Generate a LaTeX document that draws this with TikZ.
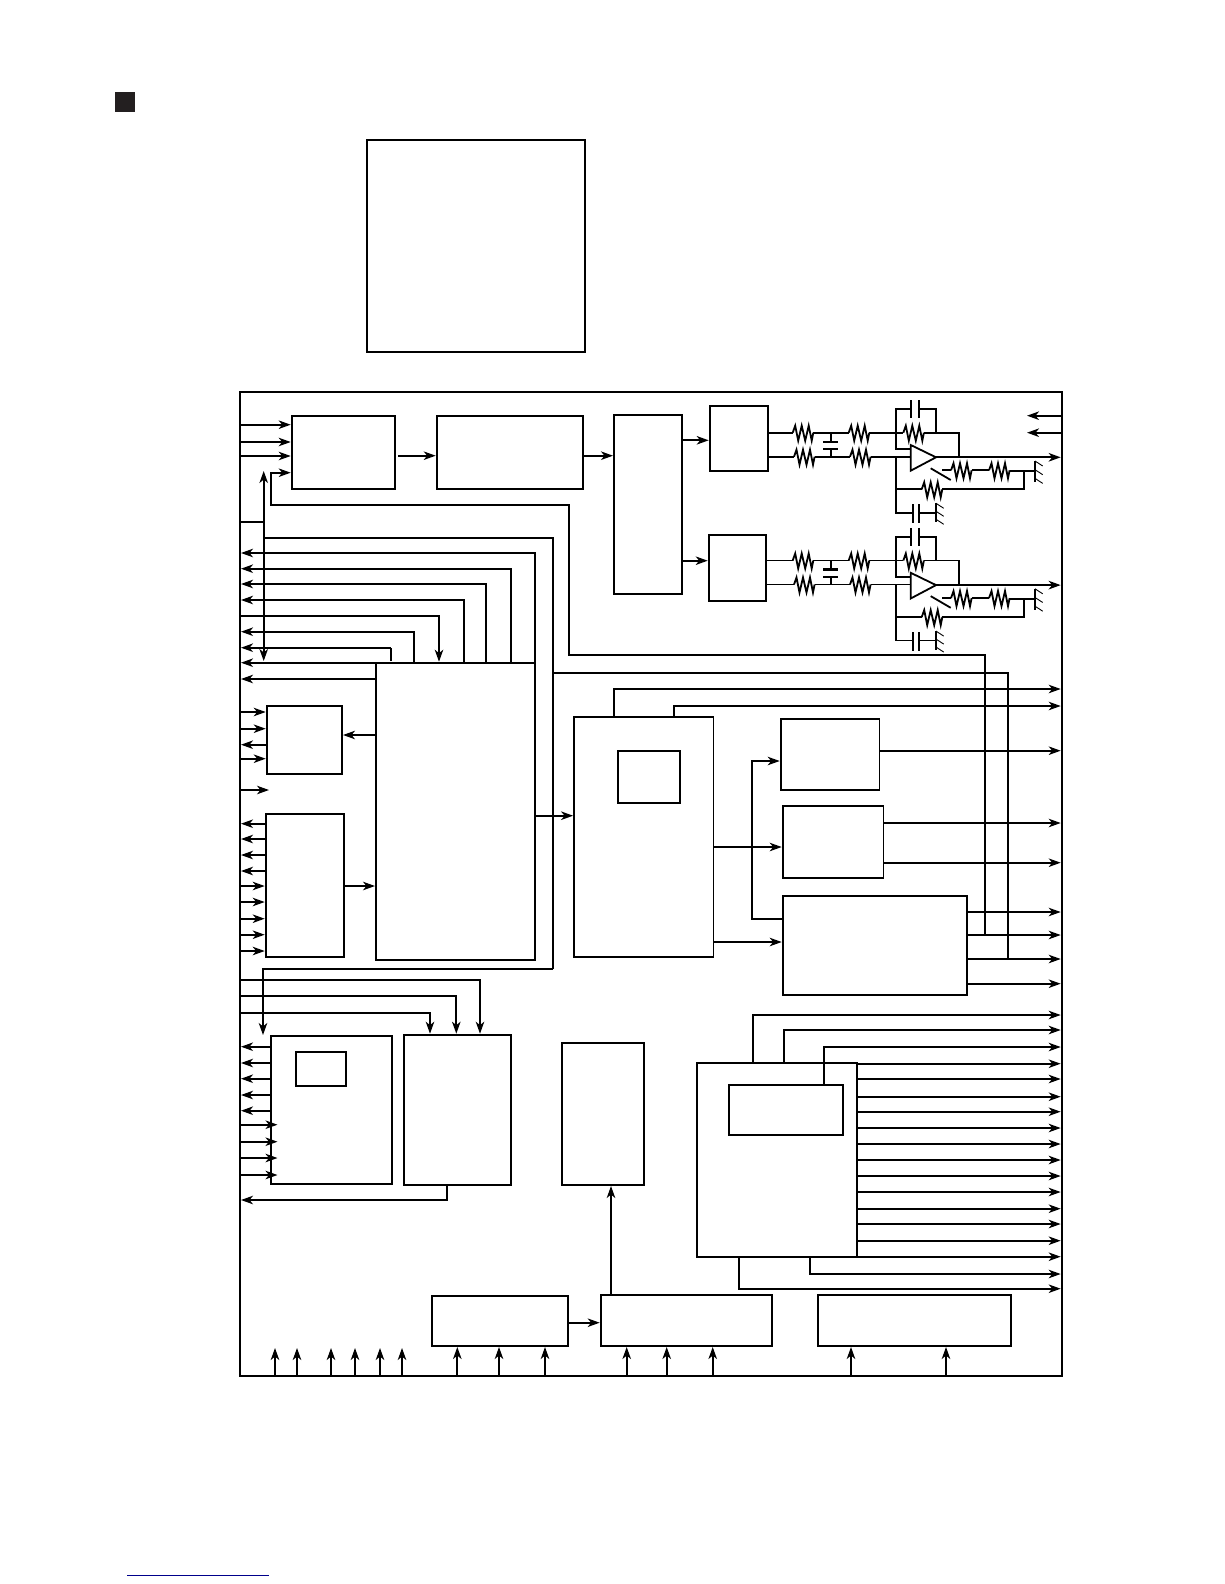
\documentclass[tikz,border=0pt]{standalone}
\usetikzlibrary{arrows.meta}
\definecolor{sqblack}{HTML}{231F20}
\definecolor{linkblue}{HTML}{00008B}
\tikzset{
  x=1pt,y=-1pt,
  ln/.style={line width=1.8pt,line join=miter,black},
  box/.style={draw,ln,inner sep=0pt,outer sep=0pt,rectangle},
  arr/.style={ln,-{Stealth[length=12pt,width=8.5pt,inset=3.5pt]},shorten >=1pt},
  dbl/.style={ln,{Stealth[length=12pt,width=8.5pt,inset=3.5pt]}-{Stealth[length=12pt,width=8.5pt,inset=3.5pt]}},
  wire/.style={line width=1.8pt,line join=miter,black},
  plate/.style={line width=2.2pt,black},
  hatch/.style={line width=0.9pt,black}
}
% box by corners: name, x1, y1, x2, y2
\newcommand\bx[5]{\node[box,minimum width={(#4-#2)*1pt},minimum height={(#5-#3)*1pt}] (#1) at ({(#2+#4)/2},{(#3+#5)/2}) {};}
% horizontal arrow between two anchors at height y
\newcommand\harr[3]{\draw[arr] (#1 |- 0,#3) -- (#2 |- 0,#3);}
% vertical arrow at x between two anchors
\newcommand\varr[3]{\draw[arr] (#1,0 |- #2) -- (#1,0 |- #3);}
\newcommand\resist[2]{\draw[wire] (#1,#2) -- ++(2.5,-7) -- ++(3,15) -- ++(3.5,-15) -- ++(3.5,15) -- ++(3.5,-15) -- ++(3,15) -- ++(1.6,-8);}
\newcommand\gnd[3]{\draw[wire] (#1,#2) -- (#1,#3);
  \foreach \t in {0,0.42,0.84} \draw[hatch] (#1,{#2+(#3-#2)*\t}) -- ++(7.7,5);}
\begin{document}
\begin{tikzpicture}
\useasboundingbox (0,0) rectangle (1224,1584);
\fill[white] (0,0) rectangle (1224,1584);
\fill[sqblack] (115,92) rectangle (135,112);
\draw[linkblue,line width=1pt] (127,1575) -- (269,1575);

\bx{blank}{367}{140}{585}{351.7}
\bx{frame}{240}{391.7}{1061.7}{1376}

\bx{A}{291.7}{416}{395.3}{489}
\bx{B}{436.7}{416}{583}{489}
\bx{C}{614}{415}{682}{594}
\bx{R}{709.7}{405.7}{768.3}{471}
\bx{S}{708.7}{534.7}{766.3}{601.3}
\bx{D}{376}{662.7}{535}{960}
\bx{E}{266.7}{705.7}{342}{774}
\bx{F}{265.7}{814}{344.3}{957}
\bx{G}{270.7}{1036}{392.3}{1184}
\bx{Gi}{296}{1051.7}{346.3}{1086}
\bx{H}{404}{1034.7}{511.3}{1185}
\bx{I}{561.7}{1043}{644.3}{1185}
\bx{J}{432}{1296}{568.3}{1346}
\bx{K}{600.7}{1294.7}{772}{1346}
\bx{L}{817.7}{1294.7}{1011.3}{1346}
\bx{M}{696.7}{1062.7}{857.3}{1257}
\bx{Mi}{728.7}{1084.7}{843.3}{1135}
\bx{N}{574.1}{716.7}{713.4}{957}
\bx{Ni}{617.8}{750.7}{680.3}{803.3}
\bx{O}{780.7}{718.7}{879.4}{790}
\bx{P}{782.7}{805.7}{883.5}{878}
\bx{Q}{782.7}{895.7}{967.3}{995}

\coordinate (free1) at (270,790);
\coordinate (gin) at (278.5,0);
\coordinate (bus1) at (263.7,471);
\coordinate (bus2) at (263.7,661);

% A inputs and chain
\foreach \y in {424.7,442,456} {\harr{frame.west}{A.west}{\y}}
\draw[arr] (398,455.7) -- (B.west |- 0,455.7);
\harr{B.east}{C.west}{455.7}
\harr{C.east}{R.west}{440.3}
\harr{C.east}{S.west}{560.7}

% long routes
\draw[dbl] (bus1) -- (bus2);
\draw[ln] (frame.west |- 0,521.7) -- (263.7,521.7);
\draw[arr] (985,935) -- (985,655) -- (569.3,655) -- (569.3,505) -- (270.7,505) -- (270.7,472.7) -- (A.west |- 0,472.7);
\draw[ln] (1008.2,959) -- (1008.2,672.7) -- (553.2,672.7);
\draw[ln] (263.7,538) -- (553.2,538) -- (553.2,968.7);
\draw[arr] (553.2,968.7) -- (263,968.7) -- (263,0 |- G.north);

% D top lines
\draw[arr] (535,662.7) -- (535,553) -- (frame.west |- 0,553);
\draw[arr] (511,662.7) -- (511,568.7) -- (frame.west |- 0,568.7);
\draw[arr] (486,662.7) -- (486,584) -- (frame.west |- 0,584);
\draw[arr] (464,662.7) -- (464,600) -- (frame.west |- 0,600);
\draw[arr] (frame.west |- 0,615.7) -- (439,615.7) -- (439,0 |- D.north);
\draw[arr] (414,662.7) -- (414,631.7) -- (frame.west |- 0,631.7);
\draw[ln] (391.3,661) -- (391.3,647.7);
\draw[arr] (391.3,647.7) -- (frame.west |- 0,647.7);
\harr{D.west}{frame.west}{662.7}
\harr{D.west}{frame.west}{679}

% E, F
\harr{D.west}{E.east}{735}
\harr{frame.west}{E.west}{712}
\harr{frame.west}{E.west}{728.7}
\harr{E.west}{frame.west}{744.7}
\harr{frame.west}{E.west}{758.7}
\draw[arr] (frame.west |- 0,790) -- (free1);
\foreach \y in {823.7,839,855,871} {\harr{F.west}{frame.west}{\y}}
\foreach \y in {886,902,918.7,934.7,951} {\harr{frame.west}{F.west}{\y}}
\harr{F.east}{D.west}{886}

% H inputs
\draw[arr] (frame.west |- 0,980) -- (480,980) -- (480,0 |- H.north);
\draw[arr] (frame.west |- 0,996) -- (456.3,996) -- (456.3,0 |- H.north);
\draw[arr] (frame.west |- 0,1012.7) -- (430,1012.7) -- (430,0 |- H.north);

% G
\foreach \y in {1046.7,1063,1078.7,1095,1110.7} {\harr{G.west}{frame.west}{\y}}
\foreach \y in {1124.7,1141.7,1158,1175} {\harr{frame.west}{gin}{\y}}
\draw[arr] (447,0 |- H.south) -- (447,1200) -- (frame.west |- 0,1200);

% bottom
\draw[arr] (611,0 |- K.north) -- (611,0 |- I.south);
\harr{J.east}{K.west}{1322.7}
\foreach \x in {275,297,331,355,380,402} {\draw[arr] (\x,0 |- frame.south) -- (\x,1347);}
\foreach \x in {457.3,499,545} {\varr{\x}{frame.south}{J.south}}
\foreach \x in {626.7,666.7,712.7} {\varr{\x}{frame.south}{K.south}}
\foreach \x in {851,946} {\varr{\x}{frame.south}{L.south}}

% M outputs
\draw[arr] (752.7,0 |- M.north) -- (752.7,1015) -- (frame.east |- 0,1015);
\draw[arr] (784,0 |- M.north) -- (784,1030) -- (frame.east |- 0,1030);
\draw[arr] (824,0 |- Mi.north) -- (824,1047) -- (frame.east |- 0,1047);
\foreach \y in {1063.7,1079,1096.7,1111.7,1128,1144,1160,1176,1192,1208.7,1224,1240.7,1256.7} {\harr{M.east}{frame.east}{\y}}
\draw[arr] (810,0 |- M.south) -- (810,1274) -- (frame.east |- 0,1274);
\draw[arr] (739,0 |- M.south) -- (739,1288.7) -- (frame.east |- 0,1288.7);

% N block
\harr{D.east}{N.west}{815.7}
\draw[arr] (613.7,0 |- N.north) -- (613.7,689) -- (frame.east |- 0,689);
\draw[arr] (673.9,0 |- N.north) -- (673.9,706) -- (frame.east |- 0,706);
\harr{N.east}{P.west}{847}
\harr{N.east}{Q.west}{942}
\draw[arr] (Q.west |- 0,918.7) -- (752,918.7) -- (752,761) -- (O.west |- 0,761);
\harr{O.east}{frame.east}{750.7}
\harr{P.east}{frame.east}{823}
\harr{P.east}{frame.east}{862.7}
\foreach \y in {912,935,959,983.7} {\harr{Q.east}{frame.east}{\y}}

% top right incoming
\coordinate (inc) at (1026,0);
\harr{frame.east}{inc}{415.7}
\harr{frame.east}{inc}{432.7}

% filter and amplifier stages
\foreach \dy/\src in {0/R,127.8/S} {
\begin{scope}[yshift={-\dy*1pt}]
  \draw[wire] (\src.east |- 0,432.7) -- (792.7,432.7);
  \resist{792.7}{432.7}
  \draw[wire] (813.3,432.7) -- (848.7,432.7);
  \resist{848.7}{432.7}
  \draw[wire] (869.3,432.7) -- (903.3,432.7);
  \resist{903.3}{432.7}
  \draw[wire] (924,432.7) -- (959.3,432.7) -- (959.3,457.3);
  \draw[wire] (\src.east |- 0,456.7) -- (794,456.7);
  \resist{794}{456.7}
  \draw[wire] (814.6,456.7) -- (850,456.7);
  \resist{850}{456.7}
  \draw[wire] (870.6,456.7) -- (910.7,456.7);
  % shunt capacitor
  \draw[wire] (831,432.7) -- (831,441.7) (831,449.3) -- (831,456.7);
  \draw[plate] (823.3,441.7) -- (838.3,441.7) (823.3,449.3) -- (838.3,449.3);
  % feedback capacitor
  \draw[wire] (910.7,409) -- (896,409) -- (896,449.3) -- (910.7,449.3);
  \draw[plate] (910.7,400) -- (910.7,417.7) (919.3,400) -- (919.3,417.7);
  \draw[wire] (919.3,409) -- (936,409) -- (936,433);
  % amplifier
  \draw[ln,fill=white] (910.7,445) -- (936,457.3) -- (910.7,470.7) -- cycle;
  \draw[arr,line width=2.1pt] (936,457.3) -- (frame.east |- 0,457.3);
  % switch and divider
  \draw[wire] (930.7,468.3) -- (950.7,480);
  \draw[wire] (942.3,470.3) -- (951,470.3);
  \resist{951}{470.3}
  \draw[wire] (971.6,470.3) -- (989,470.3);
  \resist{989}{470.3}
  \draw[wire] (1009.6,471) -- (1035,471);
  \gnd{1035}{461}{481.7}
  \draw[wire] (896,489.3) -- (921.7,489.3);
  \resist{921.7}{489.3}
  \draw[wire] (942.3,489.3) -- (1024,489.3) -- (1024,471);
  \draw[wire] (896,457.3) -- (896,512.7) -- (912.7,512.7);
  \draw[plate] (912.7,504.3) -- (912.7,523.3) (918.7,504.3) -- (918.7,523.3);
  \draw[wire] (918.7,512.7) -- (936,512.7);
  \gnd{936}{503.3}{522.3}
\end{scope}
}
\end{tikzpicture}
\end{document}
